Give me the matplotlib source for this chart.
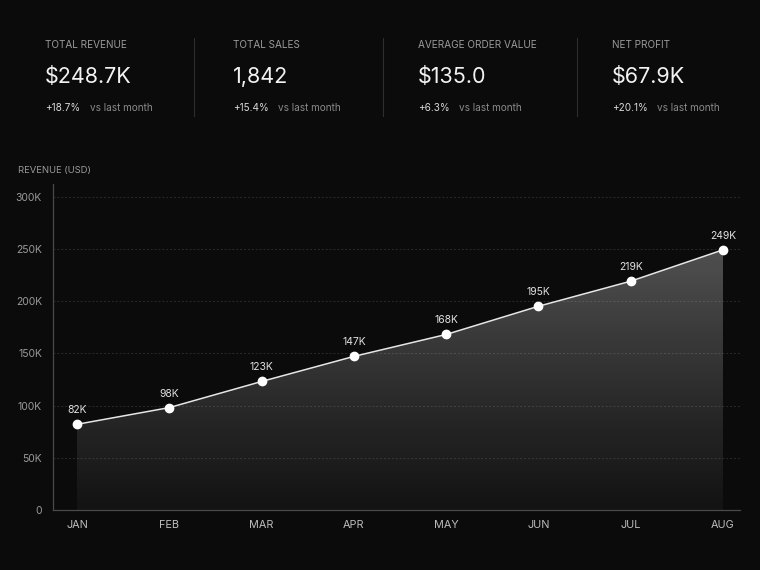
import numpy as np
import matplotlib
matplotlib.use("Agg")
import matplotlib.pyplot as plt
from matplotlib.ticker import FuncFormatter

plt.rcParams['font.family'] = ['Inter', 'DejaVu Sans']

# --- данные ---
months = ["JAN", "FEB", "MAR", "APR", "MAY", "JUN", "JUL", "AUG"]
revenue = [82000, 98000, 123000, 147000, 168000, 195000, 219000, 249000]
point_labels = ["82K", "98K", "123K", "147K", "168K", "195K", "219K", "249K"]

kpi_titles = ["TOTAL REVENUE", "TOTAL SALES", "AVERAGE ORDER VALUE", "NET PROFIT"]
kpi_values = ["$248.7K", "1,842", "$135.0", "$67.9K"]
kpi_changes = ["+18.7%", "+15.4%", "+6.3%", "+20.1%"]

BG = "#0b0b0b"
W, H = 760, 570

fig = plt.figure(figsize=(7.6, 5.7), dpi=100, facecolor=BG)

# --- график выручки (создаём первым, чтобы на нём висели подписи) ---
ax = fig.add_axes([53 / W, 60 / H, (740 - 53) / W, (510 - 184) / H])
ax.set_facecolor(BG)

# --- KPI-блоки сверху ---
kpi_x = [45, 233, 418, 612]
for i in range(4):
    x = kpi_x[i] / W
    fig.text(x, 1 - 45 / H, kpi_titles[i], color="#9a9a9a", fontsize=7.2,
             va="center", ha="left")
    fig.text(x, 1 - 77 / H, kpi_values[i], color="#f2f2f2", fontsize=15.5,
             va="center", ha="left")
    t = fig.text(x, 1 - 108 / H, kpi_changes[i], color="#d8d8d8", fontsize=7.2,
                 va="center", ha="left")
    ax.annotate("vs last month", xy=(1, 0.5), xycoords=t, xytext=(7, 0),
                textcoords="offset points", color="#8a8a8a", fontsize=7.2,
                va="center", ha="left", annotation_clip=False)

# разделители
for sx in [194, 383, 577]:
    fig.add_artist(plt.Line2D([sx / W, sx / W], [1 - 38 / H, 1 - 116 / H],
                              color="#2e2e2e", lw=0.8, transform=fig.transFigure))

fig.text(18 / W, 1 - 170 / H, "REVENUE (USD)", color="#9a9a9a", fontsize=6.8,
         va="center", ha="left")

xs = np.arange(len(months))
ax.set_xlim(-0.26, len(months) - 1 + 0.184)
ax.set_ylim(0, 312000)

# пунктирная сетка
for yv in [50000, 100000, 150000, 200000, 250000, 300000]:
    ax.axhline(yv, color="#2a2a2a", lw=0.7, ls=(0, (2, 2)), zorder=1)

# градиентная заливка под линией
poly = ax.fill_between(xs, revenue, 0, color="none", zorder=2)
top = max(revenue)
n = 256
g = np.linspace(0, 1, n)[:, None]  # 0 внизу, 1 вверху
alpha = 0.035 + 0.25 * g ** 1.1
img = np.zeros((n, 2, 4))
img[..., 0:3] = 1.0
img[..., 3] = alpha
im = ax.imshow(img, extent=[xs[0], xs[-1], 0, top], origin="lower",
               aspect="auto", zorder=2, interpolation="bilinear")
im.set_clip_path(poly.get_paths()[0], transform=ax.transData)

ax.plot(xs, revenue, color="#e6e6e6", lw=1.1, zorder=3)
ax.plot(xs, revenue, "o", color="white", markersize=6, zorder=4)

for xi, yi, lab in zip(xs, revenue, point_labels):
    ax.annotate(lab, (xi, yi), xytext=(0, 6.5), textcoords="offset points",
                ha="center", va="bottom", color="#e0e0e0", fontsize=7.5, zorder=5)

ax.set_xticks(xs)
ax.set_xticklabels(months)
ax.set_yticks([0, 50000, 100000, 150000, 200000, 250000, 300000])
ax.yaxis.set_major_formatter(FuncFormatter(lambda v, p: "0" if v == 0 else f"{int(v/1000)}K"))
ax.tick_params(axis="x", length=0, pad=7, colors="#bdbdbd", labelsize=7.8)
ax.tick_params(axis="y", length=0, pad=8, colors="#9a9a9a", labelsize=7.5)

for s in ["top", "right"]:
    ax.spines[s].set_visible(False)
for s in ["left", "bottom"]:
    ax.spines[s].set_color("#4a4a4a")
    ax.spines[s].set_linewidth(0.9)

fig.savefig("out.png", dpi=100, facecolor=BG)
